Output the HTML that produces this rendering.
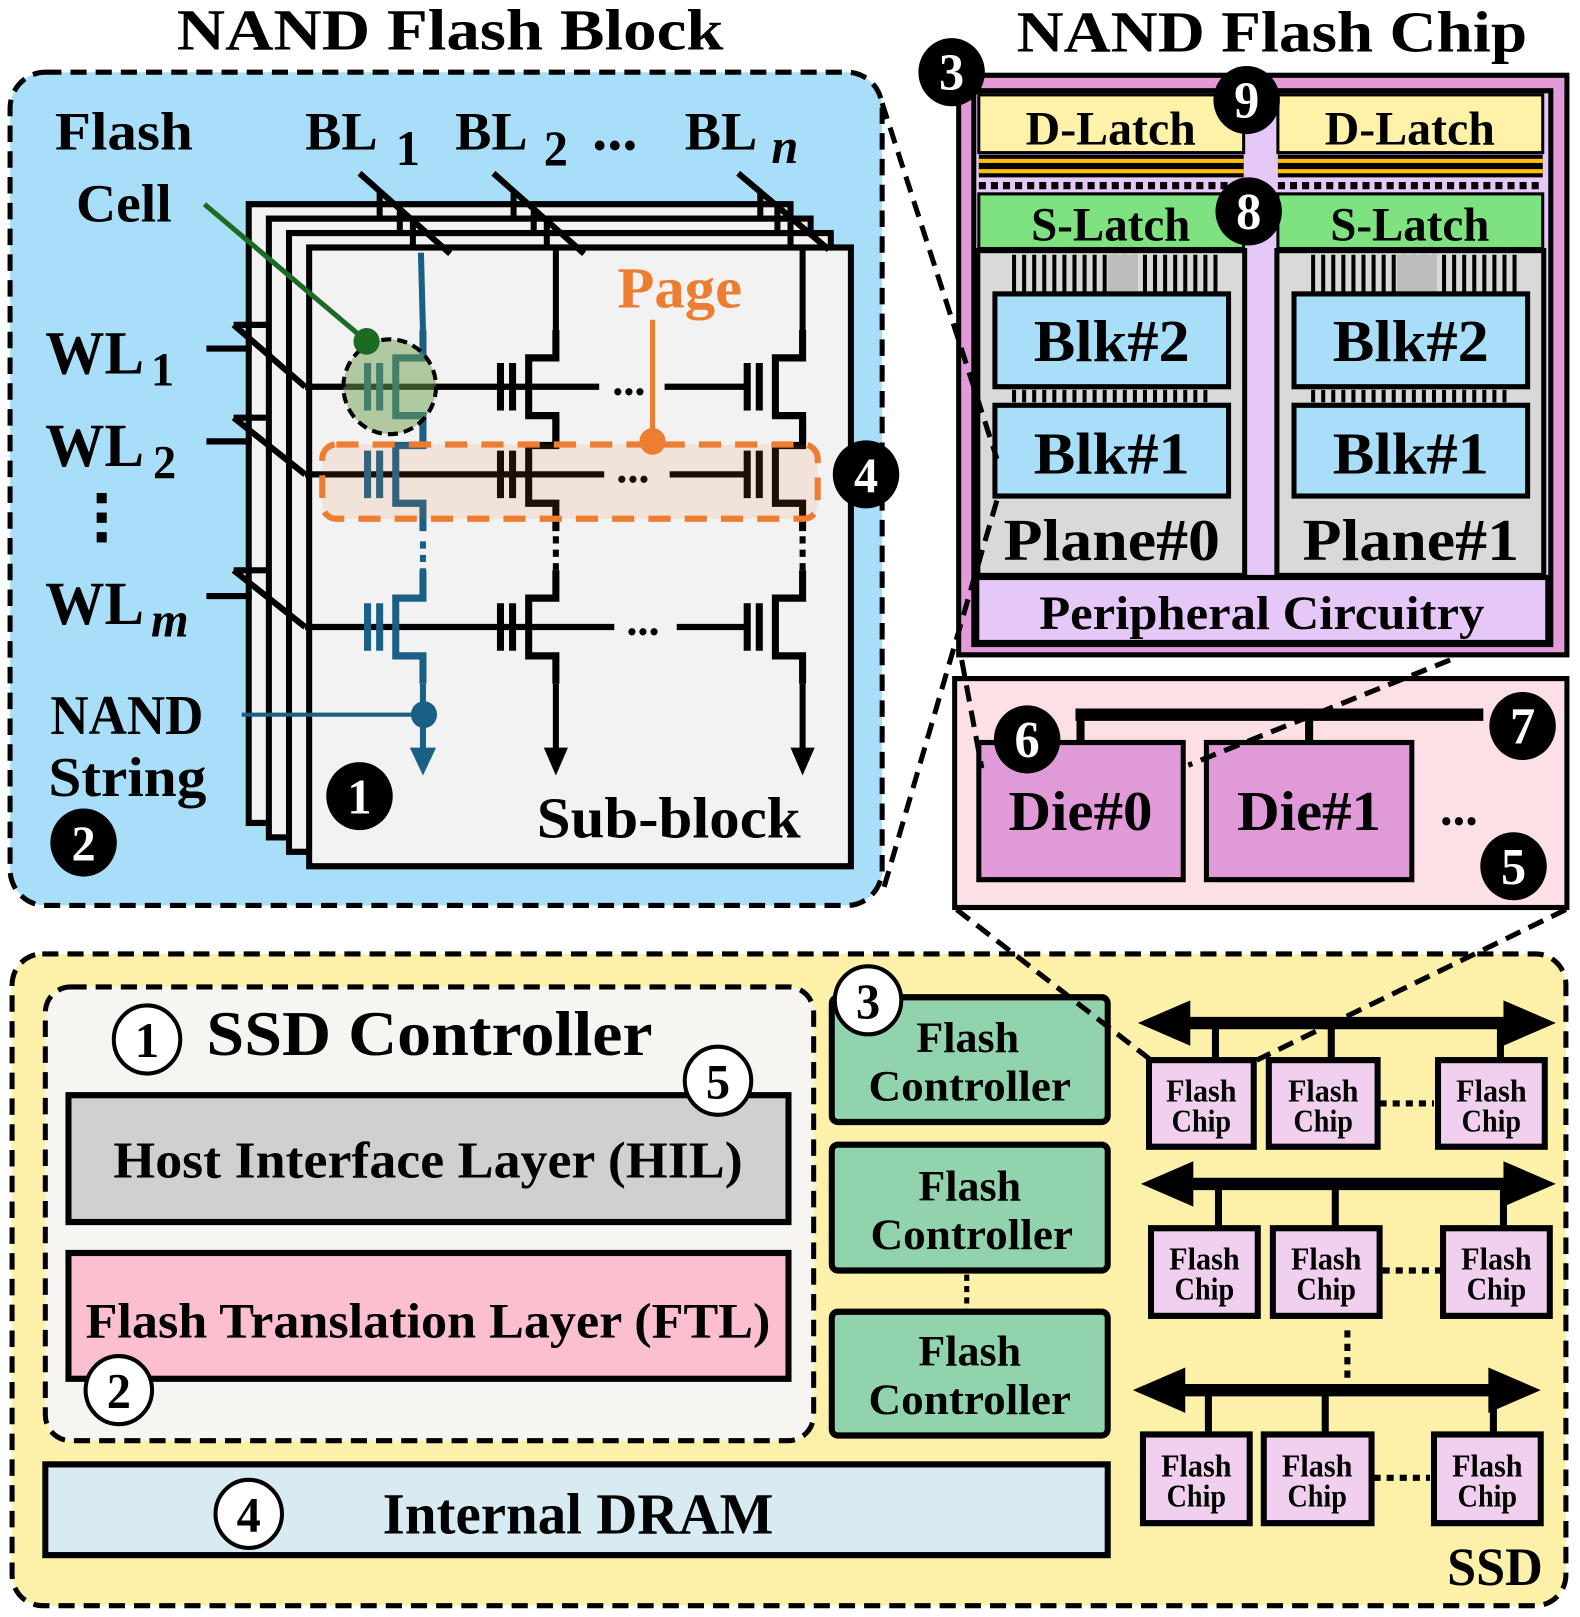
<!DOCTYPE html>
<html><head><meta charset="utf-8"><style>
html,body{margin:0;padding:0;background:#fff;}
svg{display:block;}
text{font-family:"Liberation Serif",serif;font-weight:bold;}
</style></head><body>
<svg width="1580" height="1617" viewBox="0 0 1569 1568" preserveAspectRatio="none" xmlns="http://www.w3.org/2000/svg">
<defs>
<g id="cell" fill="none" stroke-width="7">
<line x1="-55" y1="-23" x2="-55" y2="23"/><line x1="-43" y1="-23" x2="-43" y2="23"/>
<path d="M0,-55 V-28 H-27 V28 H0 V55"/>
</g>
</defs>

<text x="447" y="48" font-size="56" text-anchor="middle" textLength="543" lengthAdjust="spacingAndGlyphs">NAND Flash Block</text>
<text x="1263" y="50" font-size="56" text-anchor="middle" textLength="507" lengthAdjust="spacingAndGlyphs">NAND Flash Chip</text>

<rect x="10" y="70" width="866" height="808" rx="35" fill="#a8def8" stroke="#000" stroke-width="5" stroke-dasharray="16,9"/>
<text x="123" y="145" font-size="52" text-anchor="middle" textLength="137" lengthAdjust="spacingAndGlyphs">Flash</text>
<text x="123" y="215" font-size="52" text-anchor="middle" textLength="95" lengthAdjust="spacingAndGlyphs">Cell</text>
<text x="303" y="145" font-size="52" textLength="72" lengthAdjust="spacingAndGlyphs">BL</text><text x="393" y="160" font-size="48">1</text>
<text x="452" y="145" font-size="52" textLength="72" lengthAdjust="spacingAndGlyphs">BL</text><text x="540" y="160" font-size="48">2</text>
<text x="588" y="145" font-size="60">...</text>
<text x="680" y="145" font-size="52" textLength="72" lengthAdjust="spacingAndGlyphs">BL</text><text x="766" y="158" font-size="48" font-style="italic">n</text>

<g fill="#f2f2f2" stroke="#000" stroke-width="6">
<rect x="247" y="198" width="538" height="600"/>
<rect x="267" y="212" width="538" height="600"/>
<rect x="287" y="226" width="538" height="600"/>
<rect x="307" y="240" width="538" height="600"/>
</g>
<g stroke="#000" stroke-width="6">
<line x1="357" y1="168" x2="447" y2="246"/><line x1="490" y1="168" x2="580" y2="246"/><line x1="733" y1="168" x2="823" y2="242"/>
<line x1="377" y1="185" x2="377" y2="212"/><line x1="397" y1="200" x2="397" y2="226"/><line x1="410" y1="215" x2="410" y2="240"/>
<line x1="510" y1="185" x2="510" y2="212"/><line x1="530" y1="200" x2="530" y2="226"/><line x1="543" y1="215" x2="543" y2="240"/>
<line x1="755" y1="185" x2="755" y2="212"/><line x1="772" y1="200" x2="772" y2="226"/><line x1="785" y1="215" x2="785" y2="240"/>
</g>
<g stroke="#000" stroke-width="6" fill="none">
<line x1="205" y1="338" x2="250" y2="338"/><path d="M232,315 L303,375"/><path d="M232,315 H265"/>
<line x1="205" y1="428" x2="250" y2="428"/><path d="M232,405 L303,460"/><path d="M232,405 H265"/>
<line x1="205" y1="578" x2="250" y2="578"/><path d="M232,553 L303,608"/><path d="M232,553 H265"/>
<line x1="303" y1="375" x2="595" y2="375"/><line x1="660" y1="375" x2="742" y2="375"/>
<line x1="303" y1="460" x2="600" y2="460"/><line x1="665" y1="460" x2="742" y2="460"/>
<line x1="303" y1="608" x2="610" y2="608"/><line x1="672" y1="608" x2="742" y2="608"/>
</g>
<text x="608" y="383" font-size="44">...</text>
<text x="612" y="468" font-size="44">...</text>
<text x="622" y="616" font-size="44">...</text>

<g stroke="#000" stroke-width="6" fill="none">
<line x1="552" y1="240" x2="552" y2="320"/><line x1="797" y1="240" x2="797" y2="320"/>
<line x1="552" y1="520" x2="552" y2="560" stroke-dasharray="7,6"/><line x1="797" y1="520" x2="797" y2="560" stroke-dasharray="7,6"/>
<line x1="552" y1="663" x2="552" y2="730"/><line x1="797" y1="663" x2="797" y2="730"/>
</g>
<path d="M540,725 L564,725 L552,752 z"/><path d="M785,725 L809,725 L797,752 z"/>
<g stroke="#1a5f85" stroke-width="6" fill="none">
<line x1="418" y1="245" x2="420" y2="320"/>
<line x1="420" y1="525" x2="420" y2="560" stroke-dasharray="7,6"/>
<line x1="420" y1="663" x2="420" y2="730"/>
<line x1="240" y1="693" x2="420" y2="693" stroke-width="4"/>
</g>
<path d="M407,725 L433,725 L420,752 z" fill="#1a5f85"/>
<circle cx="421" cy="693" r="13" fill="#1a5f85"/>
<use href="#cell" x="420" y="375" stroke="#1a5f85"/><use href="#cell" x="420" y="460" stroke="#1a5f85"/><use href="#cell" x="420" y="608" stroke="#1a5f85"/>
<use href="#cell" x="552" y="375" stroke="#000"/><use href="#cell" x="552" y="460" stroke="#000"/><use href="#cell" x="552" y="608" stroke="#000"/>
<use href="#cell" x="797" y="375" stroke="#000"/><use href="#cell" x="797" y="460" stroke="#000"/><use href="#cell" x="797" y="608" stroke="#000"/>

<ellipse cx="387" cy="375" rx="46" ry="46" fill="#6f9f4f" fill-opacity="0.5" stroke="#000" stroke-width="4" stroke-dasharray="10,6"/>
<line x1="203" y1="198" x2="363" y2="330" stroke="#1b6b22" stroke-width="5"/>
<circle cx="364" cy="331" r="13" fill="#1b6b22"/>
<rect x="320" y="431" width="492" height="72" rx="14" fill="#ed7d31" fill-opacity="0.12" stroke="#ed7d31" stroke-width="6" stroke-dasharray="22,14"/>
<text x="675" y="298" font-size="56" text-anchor="middle" fill="#ed7d31" textLength="124" lengthAdjust="spacingAndGlyphs">Page</text>
<line x1="648" y1="310" x2="648" y2="428" stroke="#ed7d31" stroke-width="5"/>
<circle cx="648" cy="428" r="13" fill="#ed7d31"/>

<text x="45" y="362" font-size="60" textLength="98" lengthAdjust="spacingAndGlyphs">WL</text><text x="150" y="374" font-size="46">1</text>
<text x="45" y="452" font-size="60" textLength="98" lengthAdjust="spacingAndGlyphs">WL</text><text x="152" y="464" font-size="46">2</text>
<rect x="96" y="478" width="10" height="10"/><rect x="96" y="497" width="10" height="10"/><rect x="96" y="516" width="10" height="10"/>
<text x="45" y="605" font-size="60" textLength="98" lengthAdjust="spacingAndGlyphs">WL</text><text x="150" y="617" font-size="48" font-style="italic">m</text>
<text x="50" y="712" font-size="54" textLength="152" lengthAdjust="spacingAndGlyphs">NAND</text>
<text x="48" y="772" font-size="54" textLength="157" lengthAdjust="spacingAndGlyphs">String</text>
<text x="533" y="812" font-size="56" textLength="262" lengthAdjust="spacingAndGlyphs">Sub-block</text>

<g font-size="48" fill="#fff" text-anchor="middle">
<circle cx="357" cy="772" r="33" fill="#000"/><text x="357" y="789">1</text>
<circle cx="83" cy="817" r="33" fill="#000"/><text x="83" y="834">2</text>
<circle cx="860" cy="460" r="33" fill="#000"/><text x="860" y="477">4</text>
</g>

<rect x="952" y="73" width="604" height="562" fill="#e39ad8" stroke="#000" stroke-width="5"/>
<rect x="967" y="88" width="573" height="537" fill="#e6c8f8" stroke="#000" stroke-width="5"/>
<g>
<rect x="972" y="92" width="263" height="56" fill="#fdf2a8" stroke="#000" stroke-width="3"/>
<text x="1103" y="140" font-size="46" text-anchor="middle" textLength="169" lengthAdjust="spacingAndGlyphs">D-Latch</text>
<rect x="972" y="150" width="263" height="22" fill="#000"/>
<rect x="972" y="154" width="263" height="4" fill="#ffc000"/><rect x="972" y="164" width="263" height="4" fill="#ffc000"/>
<line x1="972" y1="180" x2="1235" y2="180" stroke="#000" stroke-width="7" stroke-dasharray="7,5"/>
<rect x="972" y="188" width="263" height="53" fill="#7de27f" stroke="#000" stroke-width="3"/>
<text x="1103" y="233" font-size="46" text-anchor="middle" textLength="158" lengthAdjust="spacingAndGlyphs">S-Latch</text>
<rect x="971" y="243" width="265" height="315" fill="#d9d9d9" stroke="#000" stroke-width="5"/>
<line x1="1005" y1="265" x2="1210" y2="265" stroke="#000" stroke-width="36" stroke-dasharray="4,6"/>
<rect x="1100" y="247" width="30" height="36" fill="#bdbdbd"/>
<rect x="988" y="285" width="232" height="90" fill="#a8def8" stroke="#000" stroke-width="5"/>
<text x="1104" y="350" font-size="58" text-anchor="middle" textLength="155" lengthAdjust="spacingAndGlyphs">Blk#2</text>
<line x1="1005" y1="384" x2="1205" y2="384" stroke="#000" stroke-width="12" stroke-dasharray="4,6"/>
<rect x="988" y="393" width="232" height="88" fill="#a8def8" stroke="#000" stroke-width="5"/>
<text x="1104" y="459" font-size="58" text-anchor="middle" textLength="155" lengthAdjust="spacingAndGlyphs">Blk#1</text>
<text x="1104" y="543" font-size="58" text-anchor="middle" textLength="215" lengthAdjust="spacingAndGlyphs">Plane#0</text>
</g>
<g transform="translate(297,0)">
<rect x="972" y="92" width="263" height="56" fill="#fdf2a8" stroke="#000" stroke-width="3"/>
<text x="1103" y="140" font-size="46" text-anchor="middle" textLength="169" lengthAdjust="spacingAndGlyphs">D-Latch</text>
<rect x="972" y="150" width="263" height="22" fill="#000"/>
<rect x="972" y="154" width="263" height="4" fill="#ffc000"/><rect x="972" y="164" width="263" height="4" fill="#ffc000"/>
<line x1="972" y1="180" x2="1235" y2="180" stroke="#000" stroke-width="7" stroke-dasharray="7,5"/>
<rect x="972" y="188" width="263" height="53" fill="#7de27f" stroke="#000" stroke-width="3"/>
<text x="1103" y="233" font-size="46" text-anchor="middle" textLength="158" lengthAdjust="spacingAndGlyphs">S-Latch</text>
<rect x="971" y="243" width="265" height="315" fill="#d9d9d9" stroke="#000" stroke-width="5"/>
<line x1="1005" y1="265" x2="1210" y2="265" stroke="#000" stroke-width="36" stroke-dasharray="4,6"/>
<rect x="1090" y="247" width="40" height="36" fill="#bdbdbd"/>
<rect x="988" y="285" width="232" height="90" fill="#a8def8" stroke="#000" stroke-width="5"/>
<text x="1104" y="350" font-size="58" text-anchor="middle" textLength="155" lengthAdjust="spacingAndGlyphs">Blk#2</text>
<line x1="1005" y1="384" x2="1205" y2="384" stroke="#000" stroke-width="12" stroke-dasharray="4,6"/>
<rect x="988" y="393" width="232" height="88" fill="#a8def8" stroke="#000" stroke-width="5"/>
<text x="1104" y="459" font-size="58" text-anchor="middle" textLength="155" lengthAdjust="spacingAndGlyphs">Blk#1</text>
<text x="1104" y="543" font-size="58" text-anchor="middle" textLength="215" lengthAdjust="spacingAndGlyphs">Plane#1</text>
</g>
<rect x="970" y="560" width="567" height="63" fill="#e6c8f8" stroke="#000" stroke-width="5"/>
<text x="1253" y="610" font-size="46" text-anchor="middle" textLength="442" lengthAdjust="spacingAndGlyphs">Peripheral Circuitry</text>

<rect x="948" y="658" width="608" height="222" fill="#fde0e6" stroke="#000" stroke-width="5"/>
<line x1="1068" y1="693" x2="1473" y2="693" stroke="#000" stroke-width="12"/>
<line x1="1073" y1="690" x2="1073" y2="722" stroke="#000" stroke-width="8"/>
<line x1="1300" y1="690" x2="1300" y2="722" stroke="#000" stroke-width="8"/>
<rect x="972" y="720" width="203" height="133" fill="#e09ad8" stroke="#000" stroke-width="5"/>
<rect x="1198" y="720" width="204" height="133" fill="#e09ad8" stroke="#000" stroke-width="5"/>
<text x="1073" y="805" font-size="54" text-anchor="middle" textLength="143" lengthAdjust="spacingAndGlyphs">Die#0</text>
<text x="1300" y="805" font-size="54" text-anchor="middle" textLength="143" lengthAdjust="spacingAndGlyphs">Die#1</text>
<text x="1430" y="800" font-size="50">...</text>

<rect x="12" y="925" width="1543" height="632" rx="30" fill="#fdf0a8" stroke="#000" stroke-width="5" stroke-dasharray="16,9"/>
<text x="1532" y="1537" font-size="52" text-anchor="end" textLength="95" lengthAdjust="spacingAndGlyphs">SSD</text>
<rect x="45" y="957" width="763" height="440" rx="25" fill="#f6f5f2" stroke="#000" stroke-width="5" stroke-dasharray="16,9"/>
<text x="205" y="1023" font-size="62" textLength="443" lengthAdjust="spacingAndGlyphs">SSD Controller</text>
<rect x="68" y="1062" width="715" height="123" fill="#d0d0d0" stroke="#000" stroke-width="6"/>
<text x="425" y="1142" font-size="50" text-anchor="middle" textLength="625" lengthAdjust="spacingAndGlyphs">Host Interface Layer (HIL)</text>
<rect x="68" y="1215" width="715" height="122" fill="#fbbfcf" stroke="#000" stroke-width="6"/>
<text x="425" y="1297" font-size="48" text-anchor="middle" textLength="680" lengthAdjust="spacingAndGlyphs">Flash Translation Layer (FTL)</text>
<rect x="45" y="1420" width="1055" height="88" fill="#d9ebf2" stroke="#000" stroke-width="6"/>
<text x="574" y="1487" font-size="56" text-anchor="middle" textLength="388" lengthAdjust="spacingAndGlyphs">Internal DRAM</text>

<g fill="#91d3ad" stroke="#000" stroke-width="6">
<rect x="826" y="967" width="274" height="121" rx="6"/>
<rect x="826" y="1110" width="274" height="122" rx="6"/>
<rect x="826" y="1272" width="274" height="120" rx="6"/>
</g>
<line x1="960" y1="1236" x2="960" y2="1270" stroke="#000" stroke-width="5" stroke-dasharray="6,5"/>
<g font-size="42" text-anchor="middle">
<text x="961" y="1020" textLength="102" lengthAdjust="spacingAndGlyphs">Flash</text><text x="963" y="1067" textLength="201" lengthAdjust="spacingAndGlyphs">Controller</text>
<text x="963" y="1164" textLength="102" lengthAdjust="spacingAndGlyphs">Flash</text><text x="965" y="1211" textLength="201" lengthAdjust="spacingAndGlyphs">Controller</text>
<text x="963" y="1324" textLength="102" lengthAdjust="spacingAndGlyphs">Flash</text><text x="963" y="1371" textLength="201" lengthAdjust="spacingAndGlyphs">Controller</text>
</g>

<g stroke="#000" stroke-width="12">
<line x1="1160" y1="992" x2="1515" y2="992"/>
<line x1="1163" y1="1148" x2="1515" y2="1148"/>
<line x1="1155" y1="1348" x2="1500" y2="1348"/>
</g>
<g fill="#000">
<path d="M1130,992 L1182,970 L1182,1014 z"/><path d="M1545,992 L1493,970 L1493,1014 z"/>
<path d="M1133,1148 L1185,1126 L1185,1170 z"/><path d="M1545,1148 L1493,1126 L1493,1170 z"/>
<path d="M1125,1348 L1177,1326 L1177,1370 z"/><path d="M1530,1348 L1478,1326 L1478,1370 z"/>
</g>
<g stroke="#000" stroke-width="7">
<line x1="1207" y1="992" x2="1207" y2="1030"/><line x1="1322" y1="992" x2="1322" y2="1030"/><line x1="1490" y1="992" x2="1490" y2="1030"/>
<line x1="1210" y1="1148" x2="1210" y2="1192"/><line x1="1326" y1="1148" x2="1326" y2="1192"/><line x1="1493" y1="1148" x2="1493" y2="1192"/>
<line x1="1200" y1="1348" x2="1200" y2="1392"/><line x1="1316" y1="1348" x2="1316" y2="1392"/><line x1="1483" y1="1348" x2="1483" y2="1392"/>
</g>
<g stroke="#000" stroke-width="6" stroke-dasharray="7,6">
<line x1="1370" y1="1070" x2="1424" y2="1070"/>
<line x1="1373" y1="1232" x2="1430" y2="1232"/>
<line x1="1364" y1="1433" x2="1420" y2="1433"/>
<line x1="1338" y1="1290" x2="1338" y2="1336"/>
</g>
<g fill="#f0d0ee" stroke="#000" stroke-width="6">
<rect x="1141" y="1028" width="104" height="84"/><rect x="1260" y="1028" width="108" height="84"/><rect x="1428" y="1028" width="106" height="84"/>
<rect x="1143" y="1191" width="106" height="85"/><rect x="1264" y="1191" width="106" height="85"/><rect x="1433" y="1191" width="106" height="85"/>
<rect x="1135" y="1391" width="106" height="86"/><rect x="1255" y="1391" width="107" height="86"/><rect x="1424" y="1391" width="106" height="86"/>
</g>
<g font-size="31" text-anchor="middle">
<text x="1193" y="1068" textLength="70" lengthAdjust="spacingAndGlyphs">Flash</text><text x="1193" y="1097" textLength="59" lengthAdjust="spacingAndGlyphs">Chip</text>
<text x="1314" y="1068" textLength="70" lengthAdjust="spacingAndGlyphs">Flash</text><text x="1314" y="1097" textLength="59" lengthAdjust="spacingAndGlyphs">Chip</text>
<text x="1481" y="1068" textLength="70" lengthAdjust="spacingAndGlyphs">Flash</text><text x="1481" y="1097" textLength="59" lengthAdjust="spacingAndGlyphs">Chip</text>
<text x="1196" y="1231" textLength="70" lengthAdjust="spacingAndGlyphs">Flash</text><text x="1196" y="1260" textLength="59" lengthAdjust="spacingAndGlyphs">Chip</text>
<text x="1317" y="1231" textLength="70" lengthAdjust="spacingAndGlyphs">Flash</text><text x="1317" y="1260" textLength="59" lengthAdjust="spacingAndGlyphs">Chip</text>
<text x="1486" y="1231" textLength="70" lengthAdjust="spacingAndGlyphs">Flash</text><text x="1486" y="1260" textLength="59" lengthAdjust="spacingAndGlyphs">Chip</text>
<text x="1188" y="1432" textLength="70" lengthAdjust="spacingAndGlyphs">Flash</text><text x="1188" y="1461" textLength="59" lengthAdjust="spacingAndGlyphs">Chip</text>
<text x="1308" y="1432" textLength="70" lengthAdjust="spacingAndGlyphs">Flash</text><text x="1308" y="1461" textLength="59" lengthAdjust="spacingAndGlyphs">Chip</text>
<text x="1477" y="1432" textLength="70" lengthAdjust="spacingAndGlyphs">Flash</text><text x="1477" y="1461" textLength="59" lengthAdjust="spacingAndGlyphs">Chip</text>
</g>

<g fill="#fff" stroke="#000" stroke-width="4">
<circle cx="146" cy="1008" r="33"/><circle cx="713" cy="1048" r="33"/><circle cx="118" cy="1348" r="33"/>
<circle cx="247" cy="1468" r="33"/><circle cx="862" cy="970" r="33"/>
</g>
<g font-size="48" text-anchor="middle">
<text x="146" y="1025" font-weight="normal">1</text><text x="713" y="1065" font-weight="normal">5</text>
<text x="118" y="1365" font-weight="normal">2</text><text x="247" y="1485" font-weight="normal">4</text>
<text x="862" y="987" font-weight="normal">3</text>
</g>

<g stroke="#000" stroke-width="5" stroke-dasharray="16,9" fill="none">
<line x1="876" y1="100" x2="990" y2="445"/>
<line x1="878" y1="860" x2="990" y2="485"/>
<line x1="955" y1="640" x2="975" y2="745"/>
<line x1="1440" y1="640" x2="1180" y2="742"/>
<line x1="950" y1="882" x2="1143" y2="1028"/>
<line x1="1555" y1="882" x2="1248" y2="1028"/>
</g>

<g fill="#000">
<circle cx="945" cy="70" r="33"/><circle cx="1238" cy="97" r="33"/><circle cx="1240" cy="205" r="33"/>
<circle cx="1020" cy="717" r="33"/><circle cx="1512" cy="704" r="33"/><circle cx="1503" cy="840" r="33"/>
</g>
<g font-size="50" fill="#fff" text-anchor="middle">
<text x="945" y="87">3</text><text x="1238" y="114">9</text>
<text x="1240" y="222">8</text><text x="1020" y="734">6</text>
<text x="1512" y="721">7</text><text x="1503" y="857">5</text>
</g>
</svg>
</body></html>
